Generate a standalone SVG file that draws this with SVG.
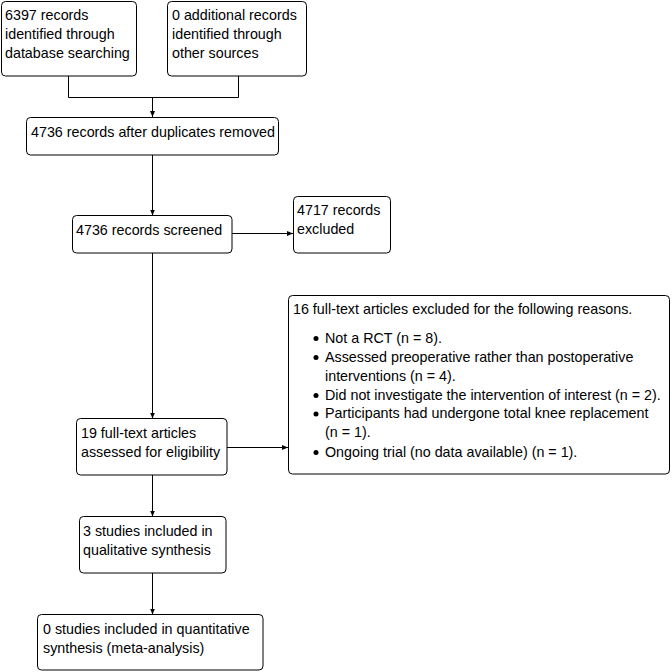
<svg xmlns="http://www.w3.org/2000/svg" width="672" height="672" viewBox="0 0 672 672">
<style>
.box{fill:#fff;stroke:#000;stroke-width:1}
.t{font-family:"Liberation Sans",Arial,sans-serif;font-size:14.3px;fill:#000}
.c{fill:none;stroke:#000;stroke-width:1}
</style>
<defs>
<marker id="ah" viewBox="0 0 6 6" refX="6" refY="3" markerWidth="6" markerHeight="6" markerUnits="userSpaceOnUse" orient="auto">
<path d="M0,0.5 L6,3 L0,5.5 Z" fill="#000"/>
</marker>
</defs>
<rect width="672" height="672" fill="#fff"/>
<g id="connectors">
<path class="c" d="M68.5,76 V97.5 H238.5 V76"/>
<path class="c" d="M152.5,97.5 V117" marker-end="url(#ah)"/>
<path class="c" d="M152.5,155 V215.5" marker-end="url(#ah)"/>
<path class="c" d="M232,233.5 H293" marker-end="url(#ah)"/>
<path class="c" d="M152.5,253 V418.5" marker-end="url(#ah)"/>
<path class="c" d="M227,447.5 H288" marker-end="url(#ah)"/>
<path class="c" d="M152.5,475 V516.5" marker-end="url(#ah)"/>
<path class="c" d="M152.5,573 V614.5" marker-end="url(#ah)"/>
</g>
<g id="n1">
<rect class="box" x="1.5" y="1.5" width="135" height="74.5" rx="4"/>
<text class="t" x="5" y="20">6397 records</text>
<text class="t" x="5" y="39">identified through</text>
<text class="t" x="5" y="58">database searching</text>
</g>
<g id="n2">
<rect class="box" x="167.5" y="1.5" width="139" height="74.5" rx="4"/>
<text class="t" x="172" y="20">0 additional records</text>
<text class="t" x="172" y="39">identified through</text>
<text class="t" x="172" y="58">other sources</text>
</g>
<g id="n3">
<rect class="box" x="26.5" y="117.5" width="252" height="37.5" rx="4"/>
<text class="t" x="31" y="137">4736 records after duplicates removed</text>
</g>
<g id="n4">
<rect class="box" x="72.5" y="215.5" width="159.5" height="37.5" rx="4"/>
<text class="t" x="76" y="235">4736 records screened</text>
</g>
<g id="n5">
<rect class="box" x="293.5" y="196.5" width="97" height="56.5" rx="4"/>
<text class="t" x="297" y="215">4717 records</text>
<text class="t" x="297" y="234">excluded</text>
</g>
<g id="n6">
<rect class="box" x="76.5" y="418.5" width="150.5" height="56.5" rx="4"/>
<text class="t" x="81" y="438">19 full-text articles</text>
<text class="t" x="81" y="457">assessed for eligibility</text>
</g>
<g id="n7">
<rect class="box" x="288.5" y="295.5" width="381" height="178.5" rx="4"/>
<text class="t" x="293" y="314">16 full-text articles excluded for the following reasons.</text>
<circle cx="316" cy="338.5" r="2.5"/>
<text class="t" x="325" y="343">Not a RCT (n = 8).</text>
<circle cx="316" cy="357.5" r="2.5"/>
<text class="t" x="325" y="362">Assessed preoperative rather than postoperative</text>
<text class="t" x="325" y="381">interventions (n = 4).</text>
<circle cx="316" cy="395.5" r="2.5"/>
<text class="t" x="325" y="400">Did not investigate the intervention of interest (n = 2).</text>
<circle cx="316" cy="414" r="2.5"/>
<text class="t" x="325" y="418">Participants had undergone total knee replacement</text>
<text class="t" x="325" y="437">(n = 1).</text>
<circle cx="316" cy="452.5" r="2.5"/>
<text class="t" x="325" y="457">Ongoing trial (no data available) (n = 1).</text>
</g>
<g id="n8">
<rect class="box" x="79.5" y="516.5" width="146.5" height="56.5" rx="4"/>
<text class="t" x="83" y="536">3 studies included in</text>
<text class="t" x="83" y="555">qualitative synthesis</text>
</g>
<g id="n9">
<rect class="box" x="37.5" y="614.5" width="225.5" height="55.5" rx="4"/>
<text class="t" x="43" y="634">0 studies included in quantitative</text>
<text class="t" x="43" y="653">synthesis (meta-analysis)</text>
</g>
</svg>
